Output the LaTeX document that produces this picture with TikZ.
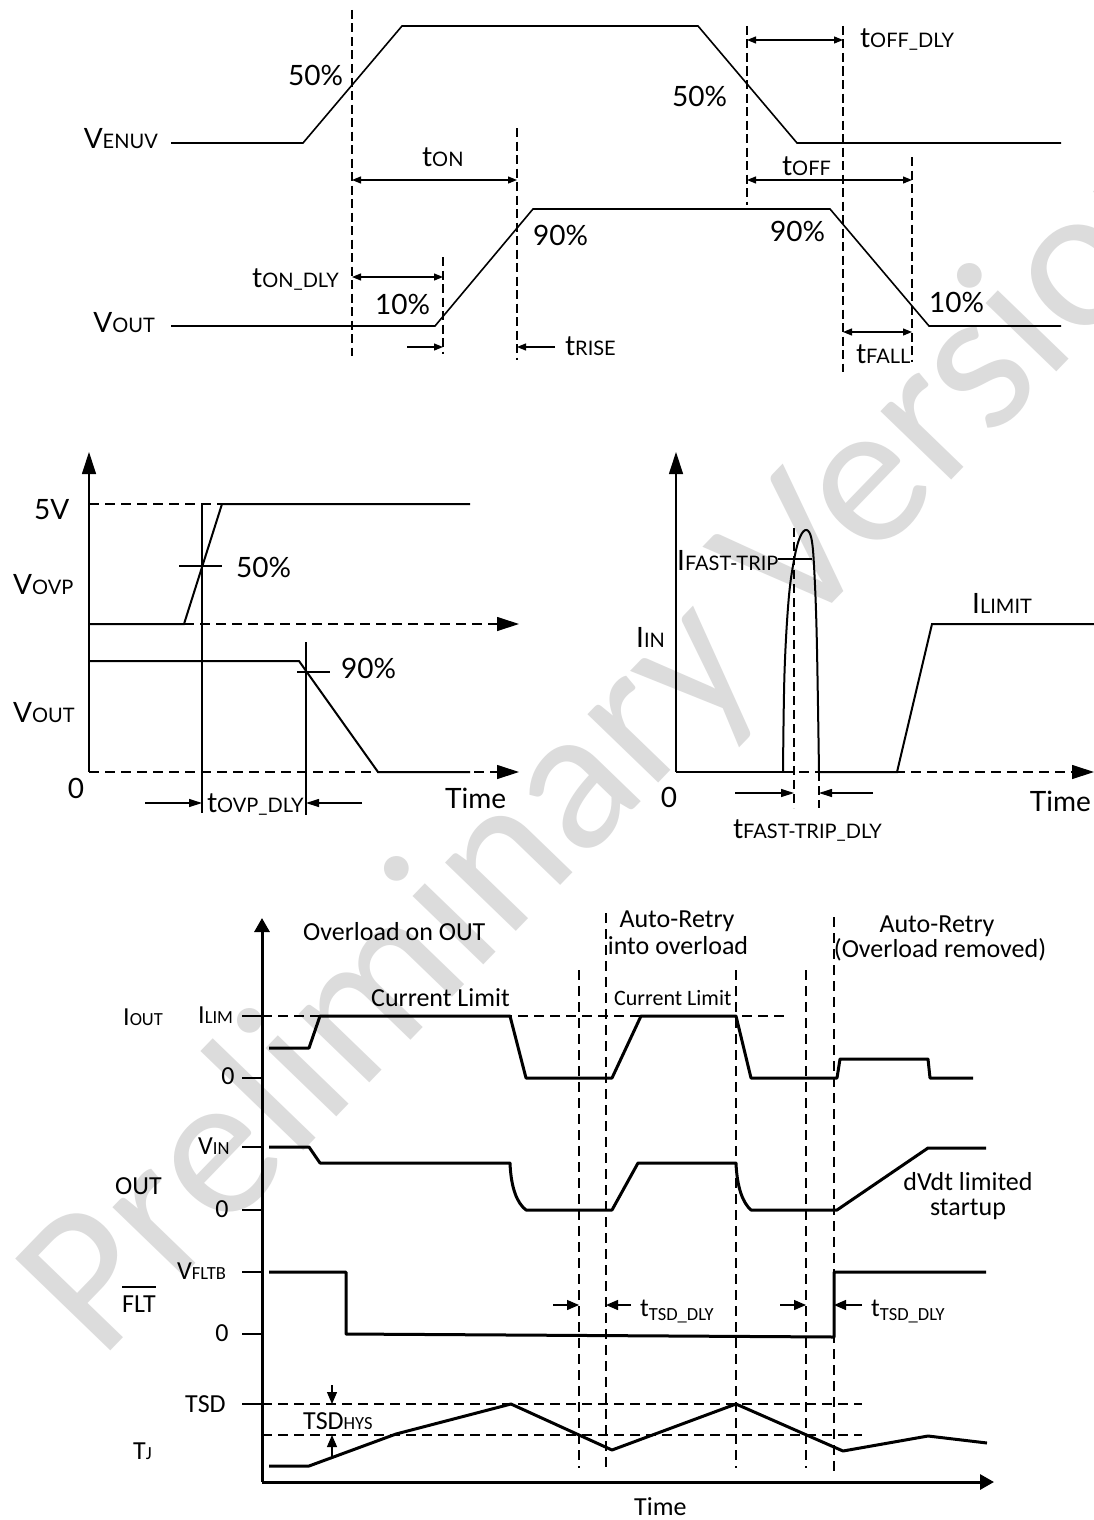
\documentclass[tikz,border=0pt]{standalone}
\usepackage{fontspec}
\setmainfont{Lato}
\newfontfamily\carl{Carlito}
\usetikzlibrary{arrows.meta}
\definecolor{wm}{RGB}{220,220,220}
\newcommand\sml[1]{{\fontsize{20}{20}\selectfont #1}}
\newcommand\smc[1]{{\fontsize{18.5}{18}\selectfont #1}}
\tikzset{
 lbl/.style={inner sep=0pt, font=\fontsize{28}{30}\selectfont},
 lblc/.style={inner sep=0pt, font=\carl\fontsize{26}{28}\selectfont},
 wv/.style={line width=1.6pt},
 wvm/.style={line width=2pt},
 wvb/.style={line width=3pt, line join=round},
 vd/.style={line width=1.3pt, dash pattern=on 9pt off 4.5pt},
 vdm/.style={line width=1.2pt, dash pattern=on 10pt off 6pt},
 vdb/.style={line width=1.3pt, dash pattern=on 10pt off 6pt},
 thinl/.style={line width=1.1pt},
 dimt/.style={line width=1.2pt, {Triangle[length=9pt,width=7pt]}-{Triangle[length=9pt,width=7pt]}},
 onet/.style={line width=1.2pt, -{Triangle[length=9pt,width=7pt]}},
 bigax/.style={line width=1.2pt, -{Triangle[length=22pt,width=14pt]}},
 midar/.style={line width=1.2pt, -{Triangle[length=13pt,width=8pt]}},
 botax/.style={line width=3pt, -{Triangle[length=14pt,width=15pt]}},
 botar/.style={line width=1.3pt, -{Triangle[length=12pt,width=10pt]}},
}
\begin{document}
\begin{tikzpicture}[x=1pt,y=-1pt]
\useasboundingbox[fill=white] (0,0) rectangle (1094,1520);
% watermark
\node[rotate=46, anchor=base west, text=wm, inner sep=0pt, font=\carl\fontsize{206}{206}\selectfont] (wmk) at (100,1362) {Preliminary Version};

%================ TOP =================
\draw[wv] (171,143) -- (303,143) -- (402,26) -- (698,26) -- (797,143) -- (1061,143);
\draw[wv] (171,326) -- (435,326) -- (533,209) -- (830,209) -- (929,326) -- (1061,326);
\draw[vd] (352,10) -- (352,356);
\draw[vd] (517,128) -- (517,360);
\draw[vd] (443,257) -- (443,354);
\draw[vd] (747,26) -- (747,205);
\draw[vd] (843,26) -- (843,372);
\draw[vd] (912,157) -- (912,362);
\coordinate (a1) at (352,180); \coordinate (a2) at (517,180);
\draw[dimt] (a1) -- (a2);
\coordinate (b1) at (352,277); \coordinate (b2) at (443,277);
\draw[dimt] (b1) -- (b2);
\coordinate (c1) at (407,347); \coordinate (c2) at (443,347);
\draw[onet] (c1) -- (c2);
\coordinate (d1) at (555,347); \coordinate (d2) at (517,347);
\draw[onet] (d1) -- (d2);
\coordinate (e1) at (747,40); \coordinate (e2) at (843,40);
\draw[dimt] (e1) -- (e2);
\coordinate (f1) at (747,180); \coordinate (f2) at (912,180);
\draw[dimt] (f1) -- (f2);
\coordinate (g1) at (843,332); \coordinate (g2) at (912,332);
\draw[dimt] (g1) -- (g2);

\node[lbl, anchor=base east] (venuv) at (158,148) {V\sml{ENUV}};
\node[lbl, anchor=base east] (vout1) at (155,332) {V\sml{OUT}};
\node[lbl, anchor=base west] (p50a) at (288,85) {50\%};
\node[lbl, anchor=base west] (ton) at (422,166) {t\sml{ON}};
\node[lbl, anchor=base east] (tondly) at (339,287) {t\sml{ON\_DLY}};
\node[lbl, anchor=base west] (p10a) at (375,314) {10\%};
\node[lbl, anchor=base west] (p90a) at (533,245) {90\%};
\node[lbl, anchor=base west] (trise) at (565,355) {t\sml{RISE}};
\node[lbl, anchor=base west] (toffdly) at (860,48) {t\sml{OFF\_DLY}};
\node[lbl, anchor=base west] (p50b) at (672,106) {50\%};
\node[lbl, anchor=base west] (toff) at (782,175) {t\sml{OFF}};
\node[lbl, anchor=base west] (p90b) at (770,241) {90\%};
\node[lbl, anchor=base west] (p10b) at (929,312) {10\%};
\node[lbl, anchor=base west] (tfall) at (856,363) {t\sml{FALL}};

%================ MIDDLE LEFT =================
\coordinate (ml0) at (89,772); \coordinate (mlt) at (89,452);
\draw[bigax] (ml0) -- (mlt);
\draw[vdm] (89,504) -- (222,504);
\draw[vdm, -{Triangle[length=22pt,width=14pt]}] (184,624) -- (519,624);
\draw[vdm, -{Triangle[length=22pt,width=14pt]}] (378,772) -- (519,772);
\draw[vdm] (89,772) -- (378,772);
\draw[wvm] (89,624) -- (184,624) -- (222,504) -- (470,504);
\draw[wvm] (89,661) -- (299,661) -- (378,772) -- (470,772);
\draw[thinl] (202,504) -- (202,813);
\draw[thinl] (179,566) -- (222,566);
\draw[thinl] (306,642) -- (306,815);
\draw[thinl] (297,672) -- (330,672);
\coordinate (h1) at (145,803); \coordinate (h2) at (202,803);
\draw[midar] (h1) -- (h2);
\coordinate (i1) at (362,803); \coordinate (i2) at (306,803);
\draw[midar] (i1) -- (i2);
\node[lbl, anchor=base west] (fivev) at (34,519) {5V};
\node[lbl, anchor=base west] (vovp) at (13,594) {V\sml{OVP}};
\node[lbl, anchor=base west] (voutm) at (13,722) {V\sml{OUT}};
\node[lbl, anchor=base] (zl) at (76,798) {0};
\node[lbl, anchor=base west] (p50m) at (236,577) {50\%};
\node[lbl, anchor=base west] (p90m) at (341,678) {90\%};
\node[lbl, anchor=base west] (timel) at (445,808) {Time};
\node[lbl, anchor=base west] (tovp) at (207,812) {t\sml{OVP\_DLY}};

%================ MIDDLE RIGHT =================
\coordinate (mr0) at (676,772); \coordinate (mrt) at (676,452);
\draw[bigax] (mr0) -- (mrt);
\draw[vdm, -{Triangle[length=22pt,width=14pt]}] (783,772) -- (1094,772);
\draw[wvm] (676,772) -- (783,772);
\draw[wvm] plot[smooth, tension=0.6] coordinates {(783,772) (784.5,673) (788.6,600) (794,560) (800,537) (806.6,530) (811.7,540) (814.4,573) (816.8,640) (819,772)};
\draw[wvm] (819,772) -- (897,772) -- (932,624) -- (1094,624);
\draw[vdm, dash pattern=on 9pt off 5pt] (794,528) -- (794,808);
\draw[vdm, dash pattern=on 9pt off 5pt] (819,772) -- (819,808);
\draw[thinl] (778,559) -- (812,559);
\coordinate (j1) at (735,793); \coordinate (j2) at (794,793);
\draw[midar] (j1) -- (j2);
\coordinate (k1) at (873,793); \coordinate (k2) at (819,793);
\draw[midar] (k1) -- (k2);
\node[lbl, anchor=base west] (ifast) at (677,570) {I\sml{FAST-TRIP}};
\node[lbl, anchor=base west] (iin) at (636,647) {I\sml{IN}};
\node[lbl, anchor=base west] (ilimit) at (972,613) {I\sml{LIMIT}};
\node[lbl, anchor=base] (zr) at (669,807) {0};
\node[lbl, anchor=base east] (timer) at (1091,811) {Time};
\node[lbl, anchor=base west] (tfast) at (733,838) {t\sml{FAST-TRIP\_DLY}};

%================ BOTTOM =================
\coordinate (bo) at (262,1482);
\coordinate (byt) at (262,918);
\coordinate (bxt) at (994,1482);
\draw[botax] (bo) -- (byt);
\draw[botax] (bo) -- (bxt);
\foreach \yy in {1016,1078,1147,1210,1272,1334,1404}
  \draw[line width=1.3pt] (242,\yy) -- (262,\yy);
\draw[vdb] (262,1016) -- (784,1016);
\draw[vdb] (262,1404) -- (862,1404);
\draw[vdb] (262,1435) -- (862,1435);
\draw[vdb] (579,970) -- (579,1468);
\draw[vdb] (606,913) -- (606,1473);
\draw[vdb] (736,970) -- (736,1468);
\draw[vdb] (806,970) -- (806,1468);
\draw[vdb] (834,917) -- (834,1473);
% IOUT
\draw[wvb] (269,1048) -- (309,1048) -- (320,1016) -- (510,1016) -- (526,1078) -- (612,1078) -- (641,1016) -- (736,1016) -- (751,1078) -- (837,1078) -- (840,1059) -- (928,1059) -- (930,1078) -- (973,1078);
% OUT
\draw[wvb] (269,1147) -- (309,1147) -- (320,1163) -- (510,1163) .. controls (511,1188) and (517,1203) .. (526,1210) -- (612,1210) -- (638,1163) -- (736,1163) .. controls (737,1188) and (743,1203) .. (751,1210) -- (837,1210) -- (928,1148) -- (986,1148);
% FLT
\draw[wvb] (269,1272) -- (346,1272) -- (346,1334) -- (834,1337) -- (834,1272) -- (986,1272);
% TJ
\draw[wvb] (269,1466) -- (309,1466) -- (396,1434) -- (511,1404) -- (612,1450) -- (736,1404) -- (843,1451) -- (928,1436) -- (987,1443);
% arrows
\coordinate (m1) at (332,1385); \coordinate (m2) at (332,1404);
\draw[botar] (m1) -- (m2);
\coordinate (n1) at (332,1456); \coordinate (n2) at (332,1435);
\draw[botar] (n1) -- (n2);
\coordinate (o1) at (553,1305); \coordinate (o2) at (579,1305);
\draw[botar] (o1) -- (o2);
\coordinate (q1) at (631,1305); \coordinate (q2) at (606,1305);
\draw[botar] (q1) -- (q2);
\coordinate (r1) at (780,1305); \coordinate (r2) at (806,1305);
\draw[botar] (r1) -- (r2);
\coordinate (s1) at (862,1305); \coordinate (s2) at (834,1305);
\draw[botar] (s1) -- (s2);

\node[lblc, anchor=base west] (iout) at (123,1025) {I\smc{OUT}};
\node[lblc, anchor=base west] (ilim) at (198,1023) {I\smc{LIM}};
\node[lblc, anchor=base] (z1) at (228,1084) {0};
\node[lblc, anchor=base west] (vin) at (198,1154) {V\smc{IN}};
\node[lblc, anchor=base west] (outl) at (115,1194) {OUT};
\node[lblc, anchor=base] (z2) at (222,1217) {0};
\node[lblc, anchor=base west] (vfltb) at (177,1279) {V\smc{FLTB}};
\node[lblc, anchor=base west] (flt) at (122,1312) {FLT};
\draw[line width=1.6pt] ([yshift=8pt]flt.north west) -- ([yshift=8pt]flt.north east);
\node[lblc, anchor=base] (z3) at (222,1341) {0};
\node[lblc, anchor=base west] (tsd) at (185,1412) {TSD};
\node[lblc, anchor=base west] (tsdhys) at (303,1429) {TSD\smc{HYS}};
\node[lblc, anchor=base west] (tj) at (133,1459) {T\smc{J}};
\node[lblc, anchor=base west] (timeb) at (634,1515) {Time};
\node[lblc, anchor=base west] (ovl) at (303,940) {Overload on OUT};
\node[lblc, anchor=base west] (cl1) at (371,1006) {Current Limit};
\node[lblc, anchor=base] (ar1a) at (677,927) {Auto-Retry};
\node[lblc, anchor=base] (ar1b) at (678,954) {into overload};
\node[lblc, anchor=base west, font=\carl\fontsize{22}{22}\selectfont] (cl2) at (614,1005) {Current Limit};
\node[lblc, anchor=base] (ar2a) at (937,932) {Auto-Retry};
\node[lblc, anchor=base] (ar2b) at (940,957) {(Overload removed)};
\node[lblc, anchor=base] (dv1) at (968,1190) {dVdt limited};
\node[lblc, anchor=base] (dv2) at (968,1215) {startup};
\node[lblc, anchor=base west] (ttsd1) at (640,1316) {t\raisebox{-4pt}{\smc{TSD\_DLY}}};
\node[lblc, anchor=base west] (ttsd2) at (871,1316) {t\raisebox{-4pt}{\smc{TSD\_DLY}}};
\end{tikzpicture}
\end{document}
